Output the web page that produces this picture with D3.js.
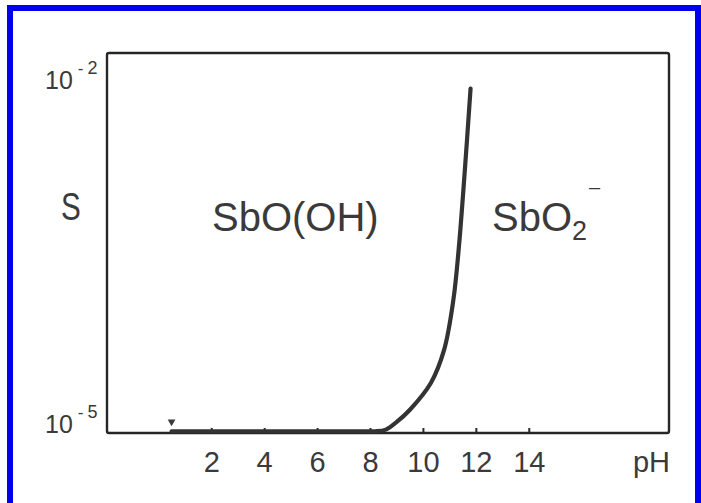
<!DOCTYPE html>
<html>
<head>
<meta charset="utf-8">
<script src="https://cdn.jsdelivr.net/npm/d3@7"></script>
<style>
  html, body { margin: 0; padding: 0; background: #fff; }
  svg { display: block; }
  text { font-family: "Liberation Sans", Arial, sans-serif; fill: #3a3a3a; }
</style>
</head>
<body>
<svg id="chart" width="701" height="503"></svg>
<script>
// ---- data ----
const phValues   = [0.5, 2, 4, 6, 8, 8.2, 8.6, 9.0, 9.5, 10.3, 10.8, 11.15, 11.35, 11.57, 11.8];
const solubility = [1.035e-5, 1.035e-5, 1.035e-5, 1.035e-5, 1.035e-5, 1.035e-5, 1.07e-5, 1.24e-5, 1.58e-5, 2.7e-5, 5.2e-5, 1.4e-4, 3.8e-4, 1.66e-3, 9.3e-3];
const xTicks = [2, 4, 6, 8, 10, 12, 14];
const yTicks = [1e-5, 1e-2];
const yTickExponents = ["-5", "-2"];
const regionLabels = ["SbO(OH)", "SbO"];

const svg = d3.select("#chart");
const W = 701, H = 503;
const plot = { left: 107, right: 669, top: 53, bottom: 433 };

// blue frame
svg.append("rect")
  .attr("x", 10).attr("y", 8)
  .attr("width", W - 13).attr("height", H + 20)
  .attr("fill", "none").attr("stroke", "#0000f0").attr("stroke-width", 6);

const x = d3.scaleLinear().domain([-1.94, 19.3]).range([plot.left, plot.right]);
const y = d3.scaleLog().domain([1e-5, 0.01887]).range([plot.bottom, plot.top]);

// plot box
svg.append("rect")
  .attr("x", plot.left).attr("y", plot.top)
  .attr("width", plot.right - plot.left).attr("height", plot.bottom - plot.top)
  .attr("rx", 2)
  .attr("fill", "none").attr("stroke", "#262626").attr("stroke-width", 2.4);

// x axis ticks (inward) and labels
const xAxis = d3.axisBottom(x).tickValues(xTicks).tickSizeInner(-5).tickSizeOuter(0).tickPadding(18);
const gx = svg.append("g").attr("transform", `translate(0,${plot.bottom})`).call(xAxis);
gx.select(".domain").remove();
gx.selectAll(".tick line").attr("stroke", "#2a2a2a").attr("stroke-width", 2);
gx.selectAll(".tick text")
  .attr("font-size", 29).attr("fill", "#3a3a3a")
  .attr("font-family", "Liberation Sans, Arial, sans-serif");

// pH label
svg.append("text").attr("x", plot.right + 1).attr("y", 472)
  .attr("text-anchor", "end").attr("font-size", 29).text("pH");

// y tick labels 10^n
yTicks.forEach((v, i) => {
  const t = svg.append("text").attr("x", 45).attr("y", y(v) + (i === 0 ? 0 : 4)).attr("font-size", 25);
  t.append("tspan").text("10");
  t.append("tspan").attr("dx", 5).attr("dy", -15).attr("font-size", 17).text(yTickExponents[i][0]);
  t.append("tspan").attr("dx", 4).attr("font-size", 18).text(yTickExponents[i].slice(1));
});

// y axis title
svg.append("text").attr("x", 61).attr("y", 220)
  .attr("font-size", 38)
  .attr("transform", "translate(61,0) scale(0.78,1) translate(-61,0)")
  .text("S");

// small mark near pH 0.5
svg.append("path")
  .attr("d", d3.symbol(d3.symbolTriangle, 26)())
  .attr("transform", `translate(${x(0.5)},${y(1.25e-5)}) rotate(180)`)
  .attr("fill", "#3a3a3a");

// solubility curve
const line = d3.line()
  .x((d, i) => x(phValues[i]))
  .y((d, i) => y(solubility[i]))
  .curve(d3.curveCatmullRom.alpha(0.5));
svg.append("path")
  .datum(phValues)
  .attr("d", line)
  .attr("fill", "none")
  .attr("stroke", "#333")
  .attr("stroke-width", 4.2)
  .attr("stroke-linecap", "round")
  .attr("stroke-linejoin", "round");

// region labels
svg.append("text").attr("x", 212).attr("y", 231).attr("font-size", 40).text(regionLabels[0]);
const s2 = svg.append("text").attr("x", 492).attr("y", 231).attr("font-size", 40);
s2.append("tspan").text(regionLabels[1]);
s2.append("tspan").attr("dy", 9).attr("font-size", 27).text("2");
svg.append("text").attr("x", 589).attr("y", 194).attr("font-size", 20).text("–");
</script>
</body>
</html>
